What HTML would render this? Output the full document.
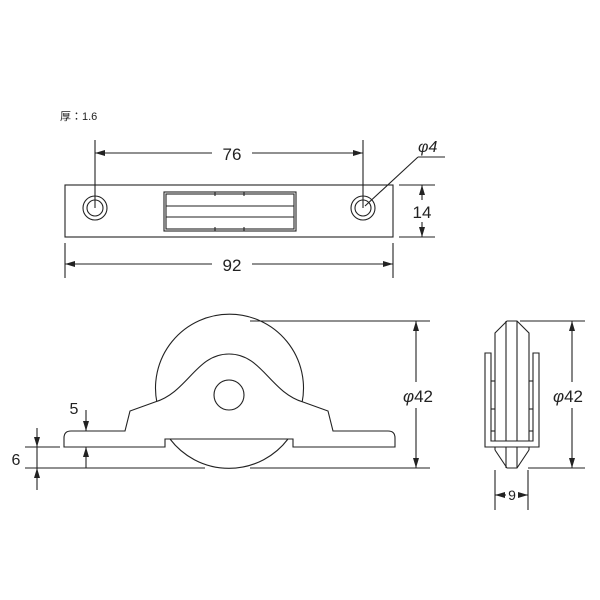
<!DOCTYPE html>
<html><head><meta charset="utf-8"><style>
html,body{margin:0;padding:0;background:#fff;}
svg{display:block;}
text{font-family:"Liberation Sans","Noto Sans CJK JP",sans-serif;fill:#222;}
</style></head><body>
<svg width="600" height="600" viewBox="0 0 600 600" xmlns="http://www.w3.org/2000/svg">
<defs>
<marker id="a" viewBox="0 0 10 6" refX="10" refY="3" markerWidth="10" markerHeight="6" orient="auto-start-reverse" markerUnits="userSpaceOnUse"><path d="M0,0 L10,3 L0,6 z" fill="#222"/></marker>
</defs>
<g stroke="#222" stroke-width="1.1" fill="none">
<text x="60" y="120" font-size="11" stroke="none">厚：1.6</text>
<rect x="65" y="185" width="328" height="52" fill="#fff"/>
<circle cx="95" cy="208" r="12"/><circle cx="95" cy="208" r="8"/>
<circle cx="363" cy="208" r="12"/><circle cx="363" cy="208" r="8"/>
<rect x="164" y="192" width="132" height="39"/>
<rect x="166" y="194" width="128" height="35"/>
<line x1="166" y1="206" x2="294" y2="206"/>
<line x1="166" y1="217" x2="294" y2="217"/>
<line x1="215" y1="192" x2="215" y2="196"/><line x1="244" y1="192" x2="244" y2="196"/>
<line x1="215" y1="227" x2="215" y2="231"/><line x1="244" y1="227" x2="244" y2="231"/>
<line x1="95" y1="140" x2="95" y2="208"/>
<line x1="363" y1="140" x2="363" y2="208"/>
<line x1="95" y1="153" x2="212" y2="153" marker-start="url(#a)"/>
<line x1="252" y1="153" x2="363" y2="153" marker-end="url(#a)"/>
<text x="232" y="160" font-size="17" text-anchor="middle" stroke="none">76</text>
<line x1="365" y1="206" x2="418" y2="157"/><line x1="418" y1="157" x2="445" y2="157"/>
<text x="418" y="152" font-size="16" stroke="none" font-style="italic">φ4</text>
<line x1="65" y1="243" x2="65" y2="278"/><line x1="393" y1="243" x2="393" y2="278"/>
<line x1="65" y1="264" x2="212" y2="264" marker-start="url(#a)"/>
<line x1="252" y1="264" x2="393" y2="264" marker-end="url(#a)"/>
<text x="232" y="271" font-size="17" text-anchor="middle" stroke="none">92</text>
<line x1="399" y1="185" x2="435" y2="185"/><line x1="399" y1="237" x2="435" y2="237"/>
<line x1="422" y1="200" x2="422" y2="185" marker-end="url(#a)"/>
<line x1="422" y1="222" x2="422" y2="237" marker-end="url(#a)"/>
<text x="422" y="218" font-size="17" text-anchor="middle" stroke="none">14</text>
<path d="M157,403 A74,74 0 1 1 302,403"/>
<path d="M170,439 A74,74 0 0 0 288,439"/>
<path d="M125,431 L71,431 Q64,431 64,438 L64,447 L165,447 L165,439 L293,439 L293,447 L395,447 L395,438 Q395,431 388,431 L333,431 L328,411 L303,402 C270,392 262,354 229,354 C196,354 188,392 155,402 L130,411 Z" fill="#fff"/>
<circle cx="229" cy="395" r="15"/>
<line x1="250" y1="321" x2="430" y2="321"/>
<line x1="25" y1="468" x2="205" y2="468"/><line x1="250" y1="468" x2="430" y2="468"/>
<line x1="416" y1="382" x2="416" y2="321" marker-end="url(#a)"/>
<line x1="416" y1="408" x2="416" y2="468" marker-end="url(#a)"/>
<line x1="86" y1="410" x2="86" y2="431" marker-end="url(#a)"/>
<line x1="86" y1="468" x2="86" y2="447" marker-end="url(#a)"/>
<text x="74" y="414" font-size="16" text-anchor="middle" stroke="none">5</text>
<line x1="25" y1="447" x2="60" y2="447"/>
<line x1="37" y1="428" x2="37" y2="447" marker-end="url(#a)"/>
<line x1="37" y1="490" x2="37" y2="468" marker-end="url(#a)"/>
<line x1="37" y1="447" x2="37" y2="468"/>
<text x="16" y="465" font-size="16" text-anchor="middle" stroke="none">6</text>
<path d="M495,333 L507,321 L517,321 L529,333 L529,447 L495,447 Z" fill="#fff"/>
<line x1="506" y1="321" x2="506" y2="447"/><line x1="517" y1="321" x2="517" y2="447"/>
<path d="M495,450 L507,468 L517,468 L529,450"/>
<line x1="495" y1="447" x2="495" y2="450"/><line x1="529" y1="447" x2="529" y2="450"/>
<line x1="506" y1="447" x2="506" y2="468"/><line x1="517" y1="447" x2="517" y2="468"/>
<path d="M485,353 L491,353 L491,441 L533,441 L533,353 L539,353 L539,447 L485,447 Z" fill="#fff"/>
<line x1="491" y1="381" x2="495" y2="381"/><line x1="491" y1="409" x2="495" y2="409"/>
<line x1="529" y1="381" x2="533" y2="381"/><line x1="529" y1="409" x2="533" y2="409"/>
<line x1="491" y1="431" x2="495" y2="431"/><line x1="529" y1="431" x2="533" y2="431"/>
<line x1="520" y1="321" x2="585" y2="321"/><line x1="528" y1="468" x2="585" y2="468"/>
<line x1="572" y1="382" x2="572" y2="321" marker-end="url(#a)"/>
<line x1="572" y1="408" x2="572" y2="468" marker-end="url(#a)"/>
<text x="568" y="402" font-size="17" text-anchor="middle" stroke="none"><tspan font-style="italic">φ</tspan>42</text>
<line x1="495" y1="470" x2="495" y2="510"/><line x1="528" y1="470" x2="528" y2="510"/>
<line x1="506" y1="495" x2="495" y2="495" marker-end="url(#a)"/>
<line x1="518" y1="495" x2="528" y2="495" marker-end="url(#a)"/>
<text x="512" y="500" font-size="14" text-anchor="middle" stroke="none">9</text>
</g>
<text x="418" y="402" font-size="17" text-anchor="middle"><tspan font-style="italic">φ</tspan>42</text>
</svg>
</body></html>
